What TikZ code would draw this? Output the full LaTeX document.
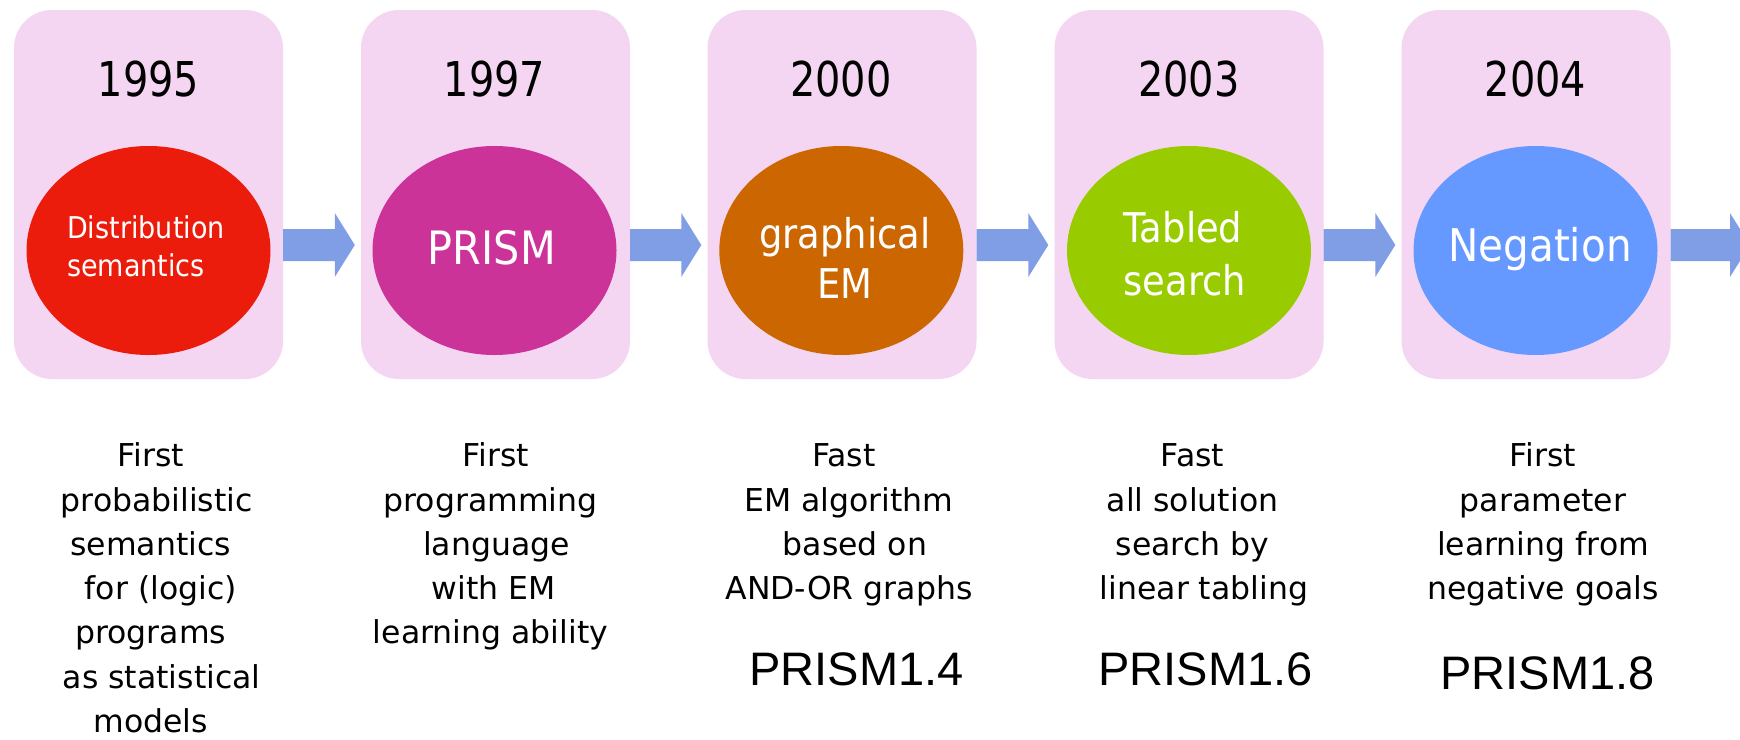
\documentclass[tikz,border=0pt]{standalone}
\usepackage{fontspec}
\setmainfont{DejaVu Sans}
\newfontfamily\yearfont{DejaVu Sans}[FakeStretch=0.83]
\newfontfamily\blobfont{DejaVu Sans}[FakeStretch=0.9]
\newfontfamily\verfont{Liberation Sans}
\usetikzlibrary{shapes.geometric}

\definecolor{panelpink}{RGB}{245,214,242}
\definecolor{flowblue}{RGB}{128,158,230}
\definecolor{blobred}{RGB}{236,28,12}
\definecolor{blobmagenta}{RGB}{204,51,153}
\definecolor{bloborange}{RGB}{204,102,0}
\definecolor{blobgreen}{RGB}{153,204,0}
\definecolor{blobblue}{RGB}{102,153,255}

% fixed-width pad that survives line breaks
\newcommand\pad[1]{\hbox to #1{}}

% block arrow from the right edge of one panel to the left edge of the next
\newcommand\blockarrow[2]{%
  \fill[flowblue]
    ([yshift=-34.5pt]#1.east) --
    ([xshift=-26pt,yshift=-34.5pt]#2.west) --
    ([xshift=-26pt,yshift=-18.5pt]#2.west) --
    ([xshift=-6pt,yshift=-50.5pt]#2.west) --
    ([xshift=-26pt,yshift=-82.5pt]#2.west) --
    ([xshift=-26pt,yshift=-66.5pt]#2.west) --
    ([yshift=-66.5pt]#1.east) -- cycle;}

% multi-line nodes are placed by the baseline of their last line
\tikzset{
  panel/.style={rectangle, rounded corners=38pt, fill=panelpink,
    minimum width=269pt, minimum height=369pt, inner sep=0pt},
  blob/.style={ellipse, fill=#1, minimum width=244pt, minimum height=209pt,
    inner sep=0pt},
  yeartext/.style={anchor=base, inner sep=0pt,
    font=\yearfont\fontsize{48}{56}\selectfont},
  blobtext/.style={inner sep=0pt, text=white},
  caption/.style={anchor=base, align=center, inner sep=0pt,
    font=\fontsize{31.5}{44.3}\selectfont},
  version/.style={anchor=base, inner sep=0pt,
    font=\verfont\fontsize{47}{54}\selectfont},
}

\begin{document}
\begin{tikzpicture}[x=1pt,y=-1pt]
\useasboundingbox (0,0) rectangle (1740,739);
\fill[white] (0,0) rectangle (1740,739);

% year panels
\node[panel] (b1) at (148.5,194.5) {};
\node[panel] (b2) at (495.5,194.5) {};
\node[panel] (b3) at (842,194.5) {};
\node[panel] (b4) at (1189,194.5) {};
\node[panel] (b5) at (1536,194.5) {};
\coordinate (b6) at (1756,194.5);

% arrows between panels
\blockarrow{b1}{b2}
\blockarrow{b2}{b3}
\blockarrow{b3}{b4}
\blockarrow{b4}{b5}
\blockarrow{b5}{b6}

% years
\node[yeartext] (y1) at (148.5,96.7) {1995};
\node[yeartext] (y2) at (494.5,96.7) {1997};
\node[yeartext] (y3) at (841,96.7) {2000};
\node[yeartext] (y4) at (1189,96.7) {2003};
\node[yeartext] (y5) at (1535.5,96.7) {2004};

% milestones
\node[blob=blobred] (e1) at (148.5,250.5) {};
\node[blob=blobmagenta] (e2) at (494.5,250.5) {};
\node[blob=bloborange] (e3) at (841.3,250.5) {};
\node[blob=blobgreen] (e4) at (1189,250.5) {};
\node[blob=blobblue] (e5) at (1535.5,250.5) {};

\node[blobtext, anchor=base west, align=left,
  font=\blobfont\fontsize{30}{37.7}\selectfont] (t1) at (67,276)
  {Distribution\\semantics};
\node[blobtext, anchor=base,
  font=\blobfont\fontsize{46}{52}\selectfont] (t2) at (491.8,264) {PRISM};
\node[blobtext, anchor=base, align=center,
  font=\blobfont\fontsize{41}{50}\selectfont] (t3) at (845,298.3)
  {graphical\\EM};
\node[blobtext, anchor=base west, align=left,
  font=\blobfont\fontsize{41}{52.7}\selectfont] (t4) at (1123.3,295)
  {Tabled\\search};
\node[blobtext, anchor=base,
  font=\blobfont\fontsize{45}{52}\selectfont] (t5) at (1540,261.7) {Negation};

% descriptions
\node[caption] (c1) at (150.7,732.5)
  {First\\\pad{12pt}probabilistic\\semantics\\\pad{20pt}for (logic)\\programs\\\pad{22pt}as statistical\\models};
\node[caption] (c2) at (490.5,643.9)
  {\pad{11pt}First\\programming\\\pad{12pt}language\\\pad{6pt}with EM\\learning ability};
\node[caption] (c3) at (849,599.6)
  {Fast\pad{10pt}\\EM algorithm\\\pad{12pt}based on\\AND-OR graphs};
\node[caption] (c4) at (1192.5,599.6)
  {Fast\\all solution\\search by\\\pad{23pt}linear tabling};
\node[caption] (c5) at (1543,599.6)
  {First\\parameter\\learning from\\negative goals};

% release versions
\node[version] (v3) at (856.7,685) {PRISM1.4};
\node[version] (v4) at (1205.7,685) {PRISM1.6};
\node[version] (v5) at (1547.7,689) {PRISM1.8};
\end{tikzpicture}
\end{document}
